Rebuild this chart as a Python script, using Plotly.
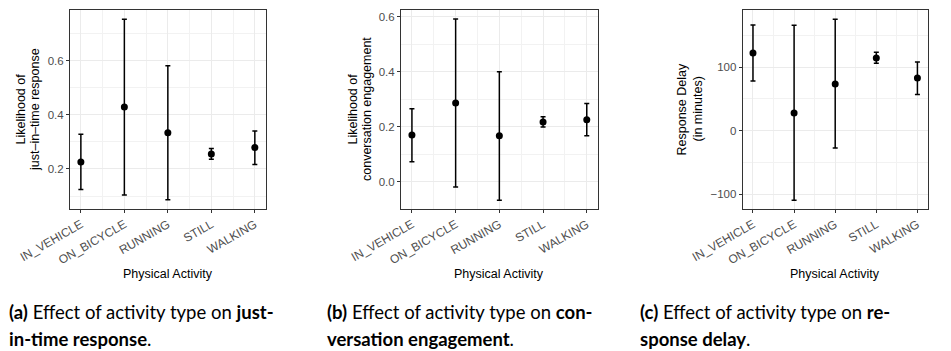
import plotly.graph_objects as go

W, H = 951, 351

activities = ["IN_VEHICLE", "ON_BICYCLE", "RUNNING", "STILL", "WALKING"]

# Panel (a): likelihood of just-in-time response
jit_mean = [0.226, 0.429, 0.334, 0.255, 0.279]
jit_low = [0.124, 0.104, 0.086, 0.236, 0.216]
jit_high = [0.328, 0.753, 0.581, 0.275, 0.340]

# Panel (b): likelihood of conversation engagement
conv_mean = [0.170, 0.286, 0.167, 0.217, 0.225]
conv_low = [0.073, -0.019, -0.067, 0.199, 0.167]
conv_high = [0.265, 0.591, 0.400, 0.236, 0.284]

# Panel (c): response delay in minutes
delay_mean = [122.2, 27.7, 73.4, 114.3, 82.8]
delay_low = [78.1, -109.8, -27.4, 106.0, 56.7]
delay_high = [166.3, 165.8, 175.3, 123.3, 108.0]

y_titles = [("Likelihood of", "just–in–time response"),
            ("Likelihood of", "conversation engagement"),
            ("Response Delay", "(in minutes)")]
y_ranges = [[0.052, 0.787], [-0.099, 0.624], [-123.6, 189.8]]
y_dticks = [0.2, 0.2, 100]
y_formats = [".1f", ".1f", "d"]
x_domains_px = [(70, 265.7), (401, 597.7), (742.7, 927.7)]
ytitle_x_px = [(20, 34.5), (352, 366.5), (681, 697)]

captions = [
    ("<b>(a)</b> Effect of activity type on <b>just-</b>", "<b>in-time response</b>.", 7),
    ("<b>(b)</b> Effect of activity type on <b>con-</b>", "<b>versation engagement</b>.", 325),
    ("<b>(c)</b> Effect of activity type on <b>re-</b>", "<b>sponse delay</b>.", 638),
]

panels = [(jit_mean, jit_low, jit_high), (conv_mean, conv_low, conv_high),
          (delay_mean, delay_low, delay_high)]

fig = go.Figure()
xs = list(range(len(activities)))
top, bottom = 10, 209
ydom = [1 - bottom / H, 1 - top / H]
xtick_font = dict(family="Liberation Sans", size=12, color="#4D4D4D")
ytick_font = dict(family="Liberation Sans", size=11.5, color="#4D4D4D")
title_font = dict(family="Liberation Sans", size=12.5, color="black")
cap_font = dict(family="Lato", size=18.5, color="black")

annotations = []
for i, (m, lo, hi) in enumerate(panels):
    sfx = "" if i == 0 else str(i + 1)
    fig.add_trace(go.Scatter(
        x=xs, y=m, mode="markers",
        marker=dict(color="black", size=7),
        error_y=dict(type="data", symmetric=False,
                     array=[h - v for h, v in zip(hi, m)],
                     arrayminus=[v - l for v, l in zip(m, lo)],
                     color="black", thickness=1.5, width=2.5),
        xaxis="x" + sfx, yaxis="y" + sfx, showlegend=False,
    ))
    x0, x1 = x_domains_px[i]
    fig.layout["xaxis" + sfx] = dict(
        domain=[x0 / W, x1 / W], anchor="y" + sfx, automargin=False,
        range=[-0.25, 4.25], tickmode="array", tickvals=xs, ticktext=activities,
        tickangle=-30, tickfont=xtick_font,
        ticks="outside", ticklen=3, tickcolor="#333333", tickwidth=1,
        showgrid=True, gridcolor="#EBEBEB", gridwidth=1.1,
        minor=dict(showgrid=True, gridcolor="#F2F2F2", gridwidth=0.6, tick0=0.5, dtick=1),
        zeroline=False, showline=True, linecolor="#333333", linewidth=1, mirror=True,
        fixedrange=True,
    )
    fig.layout["yaxis" + sfx] = dict(
        domain=ydom, anchor="x" + sfx, range=y_ranges[i], dtick=y_dticks[i],
        tickformat=y_formats[i], automargin=False, tickfont=ytick_font,
        ticks="outside", ticklen=3, tickcolor="#333333", tickwidth=1,
        showgrid=True, gridcolor="#EBEBEB", gridwidth=1.1,
        minor=dict(showgrid=True, gridcolor="#F2F2F2", gridwidth=0.6, dtick=y_dticks[i] / 2),
        zeroline=False, showline=True, linecolor="#333333", linewidth=1, mirror=True,
        fixedrange=True,
    )
    # axis titles
    annotations.append(dict(
        text="Physical Activity", xref="paper", yref="paper",
        x=((x0 + x1) / 2) / W, y=1 - 274 / H, xanchor="center", yanchor="middle",
        showarrow=False, font=title_font))
    for line, lx in zip(y_titles[i], ytitle_x_px[i]):
        annotations.append(dict(
            text=line, xref="paper", yref="paper", textangle=-90,
            x=lx / W, y=1 - 109.5 / H, xanchor="center", yanchor="middle",
            showarrow=False, font=title_font))
    # captions
    l1, l2, cx = captions[i]
    annotations.append(dict(
        text=l1, xref="paper", yref="paper", x=cx / W, y=1 - 312 / H,
        xanchor="left", yanchor="middle", showarrow=False, font=cap_font))
    annotations.append(dict(
        text=l2, xref="paper", yref="paper", x=cx / W, y=1 - 339 / H,
        xanchor="left", yanchor="middle", showarrow=False, font=cap_font))

fig.update_layout(
    width=W, height=H, margin=dict(l=0, r=0, t=0, b=0, autoexpand=False),
    paper_bgcolor="white", plot_bgcolor="white",
    annotations=annotations,
)

fig.write_html("out.html", config={"displayModeBar": False},
               post_script="document.body.style.margin='0';document.body.style.overflow='hidden';")
